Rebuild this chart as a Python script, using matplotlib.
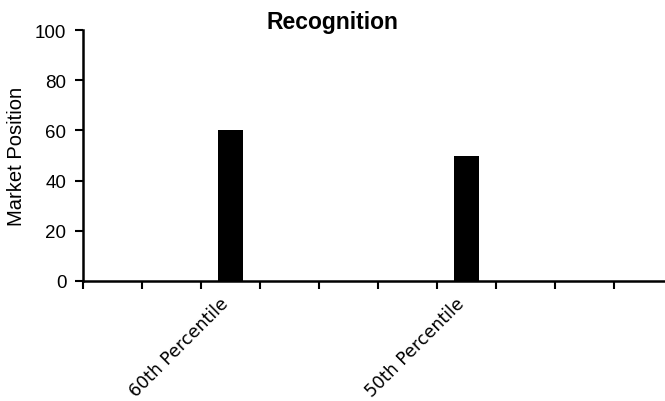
import matplotlib
matplotlib.use("Agg")
import matplotlib.pyplot as plt
import numpy as np

# chart data
categories = ["", "", "60th Percentile", "", "", "", "50th Percentile", "", "", ""]
values = [0, 0, 60, 0, 0, 0, 50, 0, 0, 0]
yticks = [0, 20, 40, 60, 80, 100]

plt.rcParams['font.family'] = ['Liberation Sans', 'DejaVu Sans']

fig = plt.figure(figsize=(6.65, 4.02), dpi=100)
# axes: left spine at x=83px, zero line at y=282px, 100 at y=31px
ax = fig.add_axes([83 / 665, (402 - 282) / 402, (665 - 83) / 665, (282 - 31) / 402])

x = np.arange(len(categories)) + 0.5
ax.bar(x, values, width=0.41, color='black', zorder=3)

ax.set_ylim(0, 100)
ax.set_xlim(0, (665 - 83) / 59.0)
ax.set_yticks(yticks)
ax.set_yticklabels([str(v) for v in yticks], fontsize=13.5)

# boundary ticks (marks only)
ax.set_xticks(np.arange(0, len(categories)))
ax.set_xticklabels([])
ax.tick_params(axis='both', which='major', direction='out', length=6, width=1.5)
ax.tick_params(axis='y', pad=6)

# rotated category labels under the bar centres
for xi, lab in zip(x, categories):
    if lab:
        ax.annotate(lab, xy=(xi, 0), xycoords=('data', 'axes fraction'),
                    xytext=(-8, -9), textcoords='offset points',
                    rotation=45, ha='right', va='top', rotation_mode='anchor',
                    fontsize=12.5, family='DejaVu Sans', annotation_clip=False)

for s in ['top', 'right']:
    ax.spines[s].set_visible(False)
for s in ['left', 'bottom']:
    ax.spines[s].set_linewidth(1.8)

ax.set_ylabel('Market Position', fontsize=14.5)
ax.yaxis.set_label_coords(-0.098, 0.5)
fig.text(0.5, 0.945, 'Recognition', ha='center', va='center', fontsize=16.5, fontweight='bold')

fig.savefig('out.png', dpi=100)
